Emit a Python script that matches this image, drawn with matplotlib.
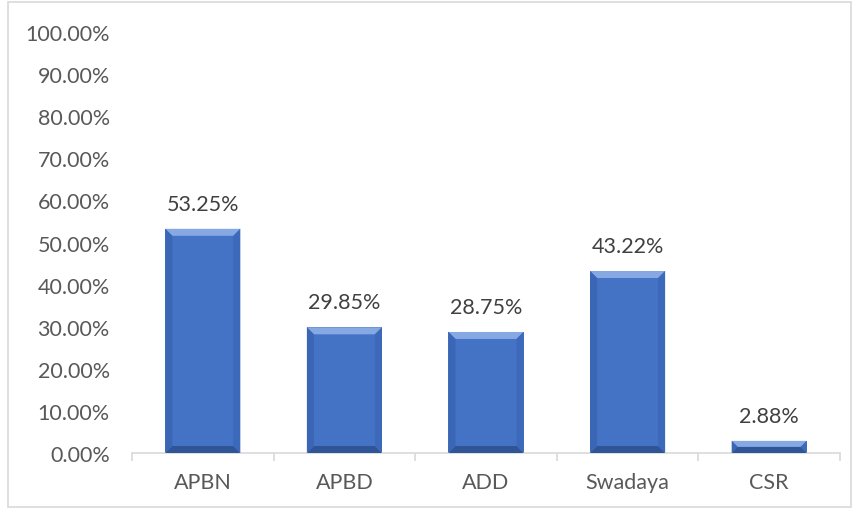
import matplotlib
matplotlib.use("Agg")
import matplotlib.pyplot as plt
from matplotlib.patches import Polygon, Rectangle
import numpy as np

categories = ["APBN", "APBD", "ADD", "Swadaya", "CSR"]
values = [53.25, 29.85, 28.75, 43.22, 2.88]
yticks = [0, 10, 20, 30, 40, 50, 60, 70, 80, 90, 100]

plt.rcParams['font.family'] = ['Lato', 'DejaVu Sans']

fig = plt.figure(figsize=(8.6, 5.1), dpi=100)
ax = fig.add_axes([132/860, 56/510, 708/860, 421/510])

x = np.arange(len(categories))
base = "#4472C4"
bars = ax.bar(x, values, width=0.53, color=base, edgecolor="none", zorder=2)

ax.set_xlim(-0.5, len(categories) - 0.5)
ax.set_ylim(0, 100)
ax.set_yticks(yticks)
ax.set_yticklabels([f"{v:.2f}%" for v in yticks])
ax.set_xticks(x)
ax.set_xticklabels(categories)
ax.tick_params(axis='y', length=0, pad=16, labelsize=15.5, labelcolor="#595959")
ax.tick_params(axis='x', length=0, pad=14, labelsize=15.5, labelcolor="#595959")
ax.set_xticks(np.arange(-0.5, len(categories) + 0.5, 1), minor=True)
ax.tick_params(axis='x', which='minor', length=6, color="#D9D9D9", width=1.2)
for s in ["left", "right", "top"]:
    ax.spines[s].set_visible(False)
ax.spines["bottom"].set_color("#D9D9D9")
ax.spines["bottom"].set_linewidth(1.2)

fig.canvas.draw()
bev = 7
for b in bars:
    x0, y0 = b.get_x(), b.get_y()
    x1, y1 = x0 + b.get_width(), y0 + b.get_height()
    (px0, py0) = ax.transData.transform((x0, y0))
    (px1, py1) = ax.transData.transform((x1, y1))
    h = py1 - py0
    bv = min(bev, h / 2.0)
    top = Polygon([(px0, py1), (px1, py1), (px1 - bv, py1 - bv), (px0 + bv, py1 - bv)],
                  closed=True, transform=None, facecolor="#86A8E3", edgecolor="none", zorder=3)
    bottom = Polygon([(px0, py0), (px1, py0), (px1 - bv, py0 + bv), (px0 + bv, py0 + bv)],
                     closed=True, transform=None, facecolor="#2F5597", edgecolor="none", zorder=3)
    left = Polygon([(px0, py0), (px0 + bv, py0 + bv), (px0 + bv, py1 - bv), (px0, py1)],
                   closed=True, transform=None, facecolor="#3A66B5", edgecolor="none", zorder=3)
    right = Polygon([(px1, py0), (px1 - bv, py0 + bv), (px1 - bv, py1 - bv), (px1, py1)],
                    closed=True, transform=None, facecolor="#3C69BA", edgecolor="none", zorder=3)
    for p in (top, bottom, left, right):
        fig.patches.append(p)

for xi, v in zip(x, values):
    ax.annotate(f"{v:.2f}%", (xi, v), xytext=(0, 11), textcoords="offset points",
                ha="center", va="bottom", fontsize=15.5, color="#404040")

fig.patches.append(Rectangle((8/860, 2/510), (851 - 8)/860, (507 - 2)/510,
                             transform=fig.transFigure, fill=False,
                             edgecolor="#D9D9D9", linewidth=1.2))

fig.savefig("out.png", dpi=100)
